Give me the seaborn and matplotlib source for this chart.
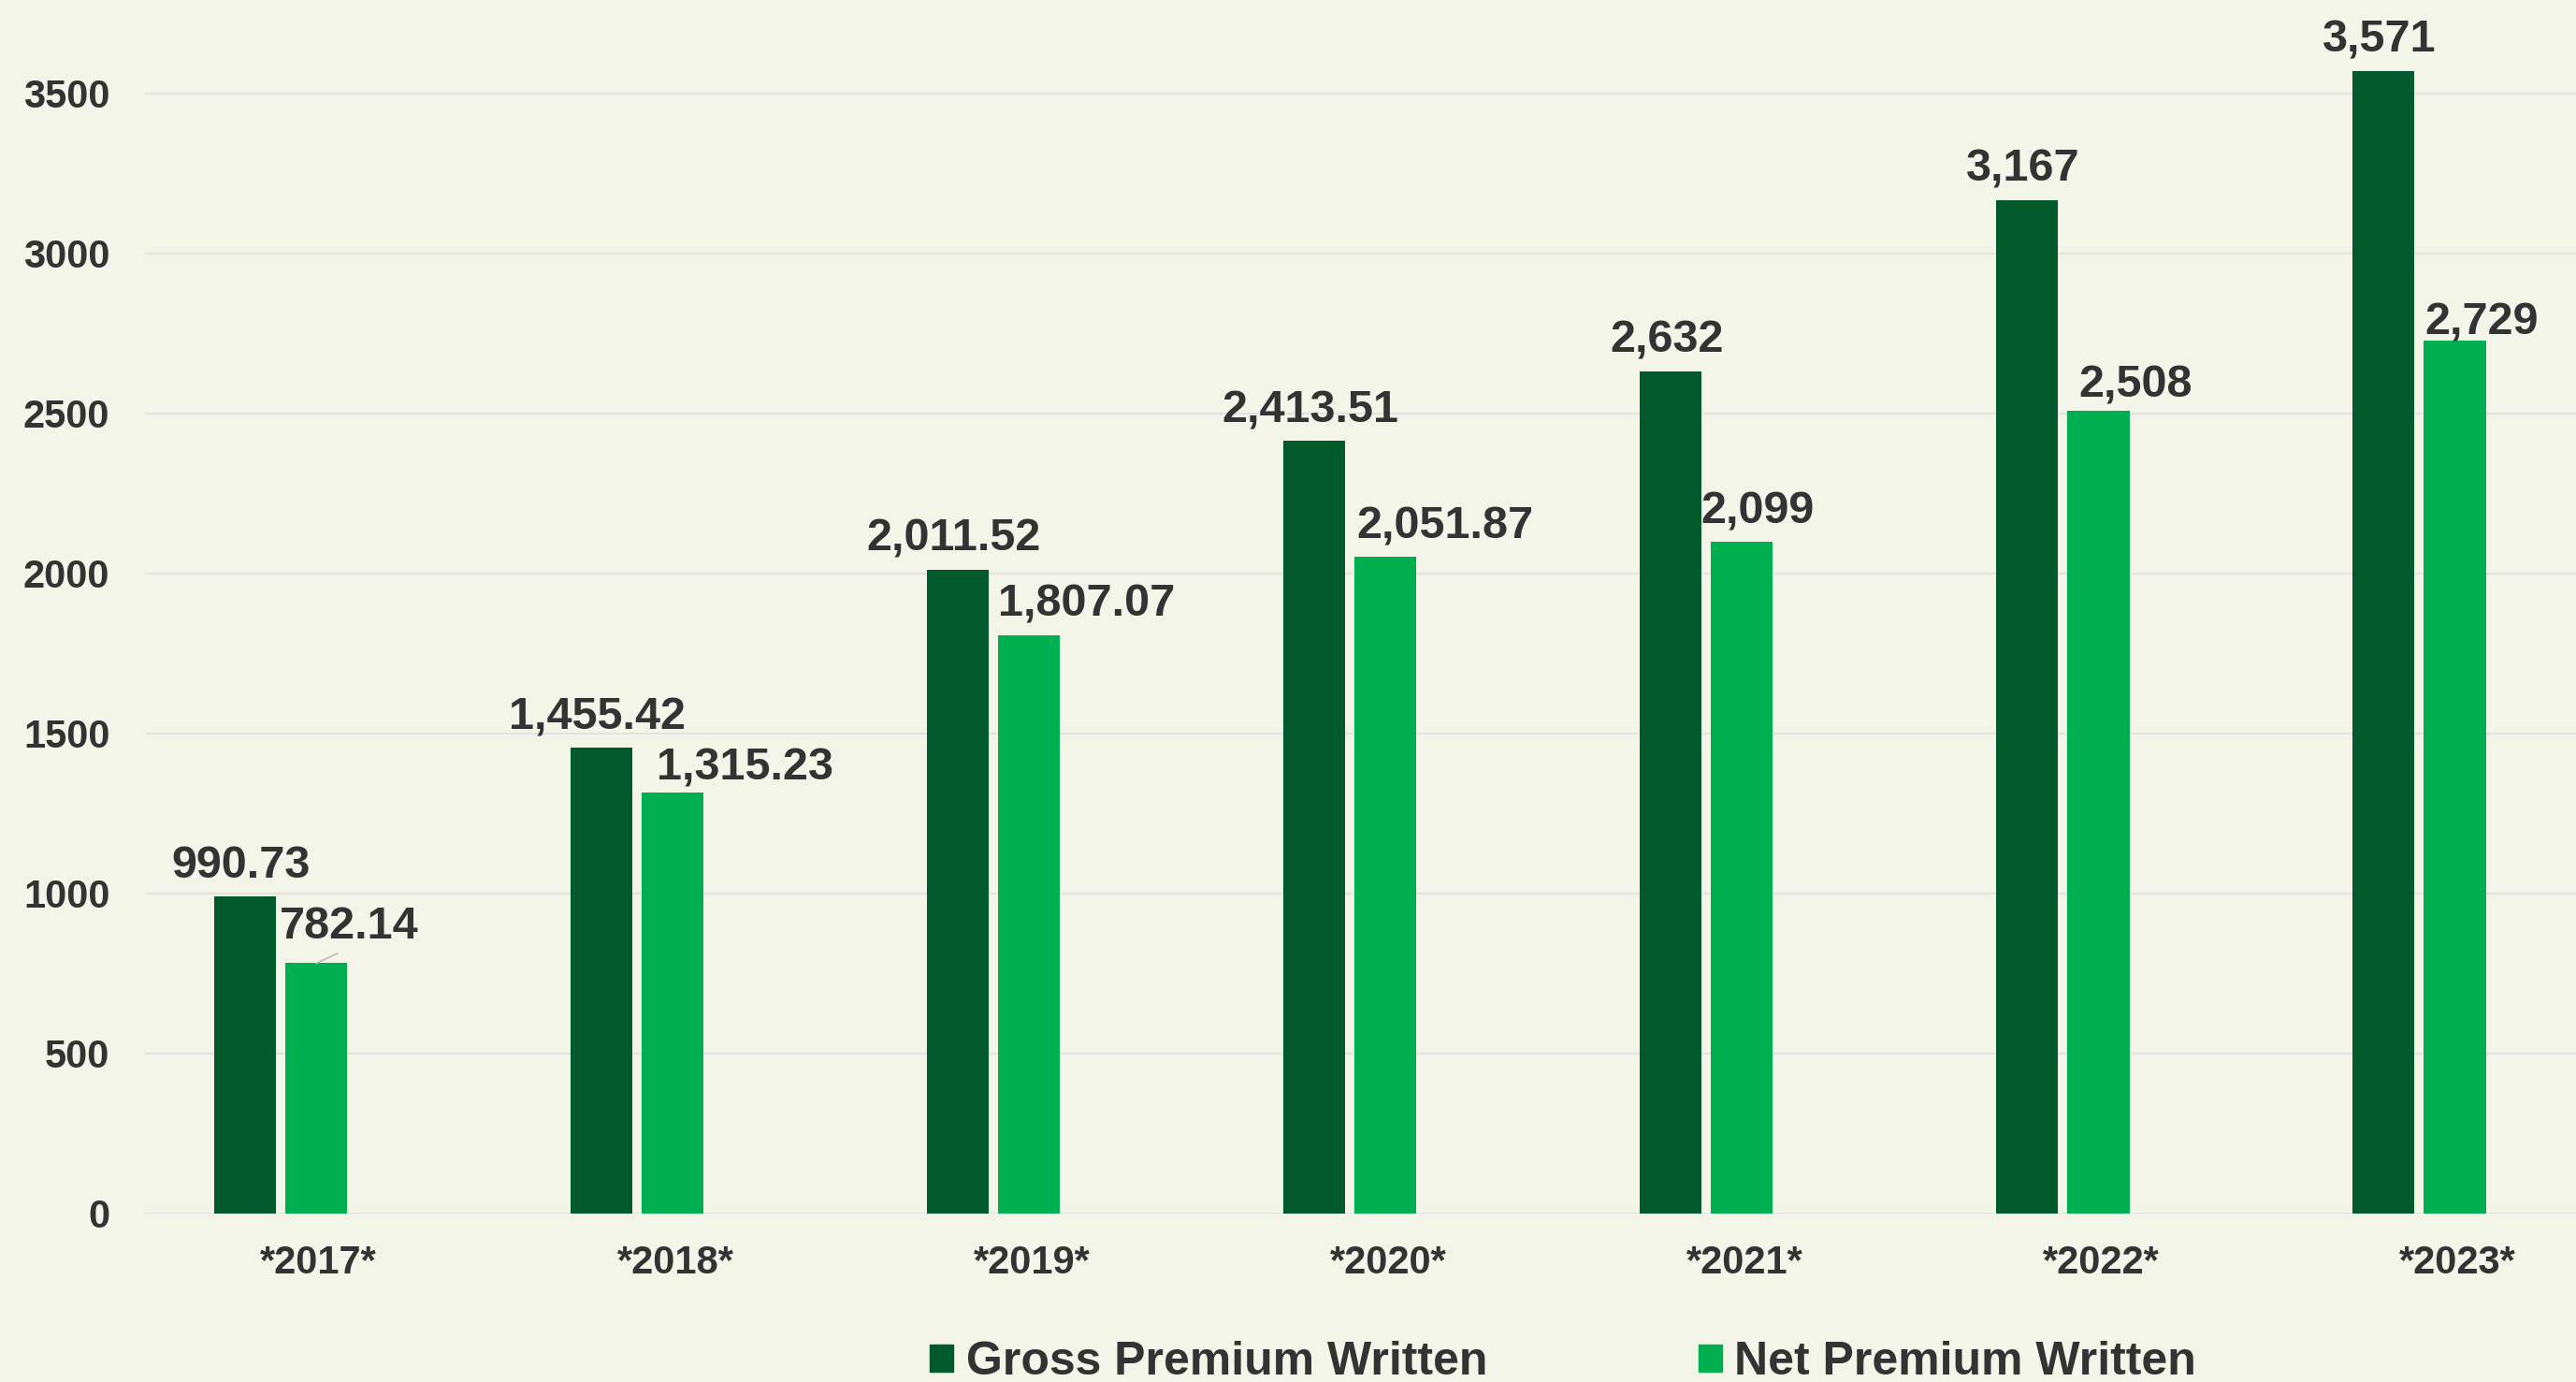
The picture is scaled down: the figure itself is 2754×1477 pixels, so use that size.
import pandas as pd
import matplotlib.pyplot as plt
from matplotlib.patches import Patch
from matplotlib.transforms import ScaledTranslation
import seaborn as sns

years = ["*2017*", "*2018*", "*2019*", "*2020*", "*2021*", "*2022*", "*2023*"]
gross = [990.73, 1455.42, 2011.52, 2413.51, 2632, 3167, 3571]
net = [782.14, 1315.23, 1807.07, 2051.87, 2099, 2508, 2729]
series = ["Gross Premium Written", "Net Premium Written"]
yticks = [0, 500, 1000, 1500, 2000, 2500, 3000, 3500]

BG = "#F4F5E9"
DARK = "#005A2B"
LIGHT = "#00B050"
TXT = "#333333"

df = pd.DataFrame({
    "year": years * 2,
    "series": [series[0]] * len(years) + [series[1]] * len(years),
    "value": gross + net,
})

sns.set_theme(style="white")
plt.rcParams["font.family"] = ["Liberation Sans", "DejaVu Sans"]
plt.rcParams["font.weight"] = "bold"

fig = plt.figure(figsize=(27.54, 14.77), dpi=100, facecolor=BG)
ax = fig.add_axes([155 / 2754, 1 - 1297 / 1477, 1 - 155 / 2754, 1297 / 1477])
ax.set_facecolor(BG)

sns.barplot(data=df, x="year", y="value", hue="series", palette=[DARK, LIGHT],
            width=0.4, gap=0.13, saturation=1, legend=False, linewidth=0,
            ax=ax, zorder=3)

ax.set_ylim(0, 3792)
ax.set_xlim(-0.38, 6.44)
ax.set_yticks(yticks)
ax.grid(axis="y", color="#E3E3E3", lw=1.6, zorder=0)
ax.set_axisbelow(True)
sns.despine(ax=ax, left=True, bottom=True)
ax.set_xlabel("")
ax.set_ylabel("")
ax.tick_params(axis="both", length=0, labelsize=30, labelcolor=TXT)
ax.tick_params(axis="y", pad=27)
ax.tick_params(axis="x", pad=24)

# Excel left an empty third slot in each group, so the year sits right of the pair
shift = ScaledTranslation(41 / 100, 0, fig.dpi_scale_trans)
for lab in ax.get_xticklabels():
    lab.set_transform(lab.get_transform() + shift)


def fmt(v):
    return f"{v:,.2f}" if v % 1 else f"{v:,.0f}"


# label nudges in pixels (some labels were moved by hand)
net_dx = [35, 77, 62, 64, 17, 40, 29]
net_dy = [26, 14, 20, 20, 20, 15, 6]
px = 0.72

for bar, v in zip(ax.containers[0], gross):
    ax.annotate(fmt(v), (bar.get_x() + bar.get_width() / 2, bar.get_height()),
                xytext=(-4 * px, 20 * px), textcoords="offset points",
                ha="center", va="baseline", fontsize=35, color=TXT,
                fontweight="bold")

for i, (bar, v) in enumerate(zip(ax.containers[1], net)):
    arrow = None
    if i == 0:
        arrow = dict(arrowstyle="-", color="#C9BCC4", lw=1.3,
                     shrinkA=4, shrinkB=0, relpos=(0.5, 0))
    ax.annotate(fmt(v), (bar.get_x() + bar.get_width() / 2, bar.get_height()),
                xytext=(net_dx[i] * px, net_dy[i] * px), textcoords="offset points",
                ha="center", va="baseline", fontsize=35, color=TXT,
                fontweight="bold", arrowprops=arrow)

handles = [Patch(color=DARK), Patch(color=LIGHT)]
fig.legend(handles, series, loc="center left", bbox_to_anchor=(994 / 2754, 0.0142),
           ncol=2, frameon=False, borderpad=0, borderaxespad=0,
           handleheight=0.5, handlelength=0.5, handletextpad=0.28,
           columnspacing=4.5, fontsize=36, labelcolor=TXT)

fig.savefig("out.png", dpi=100, facecolor=BG)
